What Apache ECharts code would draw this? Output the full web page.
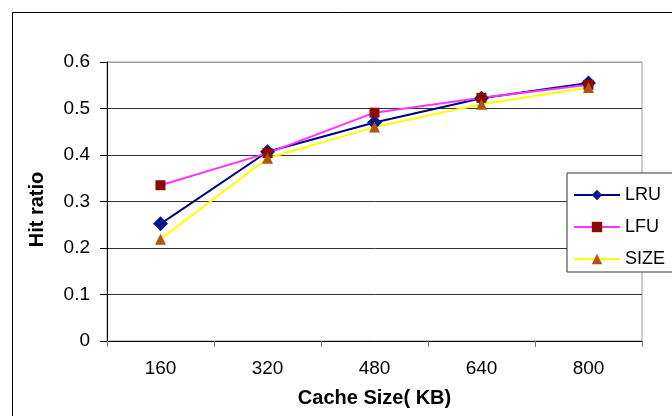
<!DOCTYPE html>
<html>
<head>
<meta charset="utf-8">
<style>
  html, body { margin: 0; padding: 0; background: #fff; }
  #myChart { width: 672px; height: 416px; }
</style>
<script src="https://cdn.jsdelivr.net/npm/echarts@6/dist/echarts.min.js"></script>
</head>
<body>
<div id="myChart"></div>
<script>
// 数据
var cacheSize = ['160', '320', '480', '640', '800'];
var lruData = [0.252, 0.407, 0.470, 0.522, 0.555];
var lfuData = [0.335, 0.404, 0.491, 0.523, 0.551];
var sizeData = [0.219, 0.393, 0.460, 0.509, 0.545];

var myChart = echarts.init(document.getElementById('myChart'));

var font = 'Liberation Sans, Arial, sans-serif';

var option = {
    backgroundColor: '#fff',
    animation: false,
    graphic: [{
        type: 'rect',
        shape: { x: 12.5, y: 12.5, width: 720, height: 500 },
        style: { fill: 'none', stroke: '#000', lineWidth: 1 },
        silent: true
    }],
    grid: {
        left: 107,
        right: 30,
        top: 62,
        bottom: 75,
        show: true,
        borderColor: '#999',
        borderWidth: 1
    },
    legend: {
        orient: 'vertical',
        left: 567,
        top: 173,
        padding: [13, 30, 4, 6],
        itemWidth: 46,
        itemHeight: 13,
        itemGap: 14,
        borderColor: '#333',
        borderWidth: 1,
        backgroundColor: '#fff',
        textStyle: { fontFamily: font, fontSize: 18, color: '#000' },
        data: ['LRU', 'LFU', 'SIZE']
    },
    xAxis: {
        type: 'category',
        boundaryGap: true,
        data: cacheSize,
        name: 'Cache Size( KB)',
        nameLocation: 'middle',
        nameGap: 47,
        nameTextStyle: { fontFamily: font, fontSize: 20, fontWeight: 'bold', color: '#000' },
        axisLine: { lineStyle: { color: '#000', width: 1 } },
        axisTick: { show: true, length: 6, lineStyle: { color: '#777' } },
        axisLabel: { margin: 18, fontFamily: font, fontSize: 19, color: '#000' },
        splitLine: { show: false }
    },
    yAxis: {
        type: 'value',
        min: 0,
        max: 0.6,
        interval: 0.1,
        name: 'Hit ratio',
        nameLocation: 'middle',
        nameGap: 60,
        nameTextStyle: {
            fontFamily: font, fontSize: 20, fontWeight: 'bold', color: '#000',
            padding: [0, 16, 0, 0]
        },
        axisLine: { show: true, lineStyle: { color: '#000', width: 1 } },
        axisTick: { show: true, length: 7, lineStyle: { color: '#000' } },
        axisLabel: {
            margin: 17,
            fontFamily: font,
            fontSize: 19,
            color: '#000',
            formatter: function (v) { return v === 0 ? '0' : v.toFixed(1); }
        },
        splitLine: {
            show: true,
            lineStyle: { color: ['#333', '#333', '#333', '#333', '#333', '#333', '#999'], width: 1 }
        }
    },
    series: [
        {
            name: 'LRU',
            type: 'line',
            data: lruData,
            symbol: 'diamond',
            symbolSize: 15,
            lineStyle: { color: '#000080', width: 2 },
            itemStyle: { color: '#001a8c' }
        },
        {
            name: 'LFU',
            type: 'line',
            data: lfuData,
            symbol: 'rect',
            symbolSize: 10,
            lineStyle: { color: '#ff33ff', width: 2 },
            itemStyle: { color: '#8b0a00' }
        },
        {
            name: 'SIZE',
            type: 'line',
            data: sizeData,
            symbol: 'triangle',
            symbolSize: 11,
            lineStyle: { color: '#ffff00', width: 2 },
            itemStyle: { color: '#b5520f' }
        }
    ]
};

myChart.setOption(option);
</script>
</body>
</html>
